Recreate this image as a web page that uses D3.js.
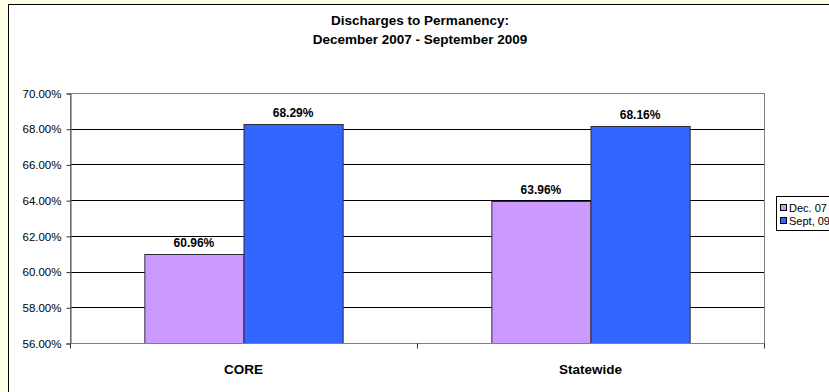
<!DOCTYPE html>
<html>
<head>
<meta charset="utf-8">
<script src="https://cdn.jsdelivr.net/npm/d3@7"></script>
<style>
  html, body { margin: 0; padding: 0; background: #FFFFE6; overflow: hidden; }
  svg { display: block; font-family: "Liberation Sans", Arial, sans-serif; }
</style>
</head>
<body>
<svg id="chart" width="829" height="392"></svg>
<script>
// Chart data
const categories = ["CORE", "Statewide"];
const seriesNames = ["Dec. 07", "Sept, 09"];
const seriesColors = ["#CC99FF", "#3366FF"];
const decValues = [60.96, 63.96];
const septValues = [68.29, 68.16];
const yTicks = [56, 58, 60, 62, 64, 66, 68, 70];
const titleLines = ["Discharges to Permanency:", "December 2007 - September 2009"];

const seriesValues = [decValues, septValues];

const svg = d3.select("#chart");

// Chart area (white panel with black frame)
svg.append("rect")
  .attr("x", 8.5).attr("y", 4.5)
  .attr("width", 840).attr("height", 400)
  .attr("fill", "#fff").attr("stroke", "#000").attr("stroke-width", 1);

// Title
const title = svg.append("text")
  .attr("text-anchor", "middle")
  .attr("font-weight", "bold")
  .attr("font-size", 13.5);
titleLines.forEach((t, i) => {
  title.append("tspan").attr("x", 420).attr("y", 25 + i * 19).text(t);
});

// Plot area geometry
const plot = { left: 70, right: 764, top: 93, bottom: 343 };

const x0 = d3.scaleBand().domain(categories).range([plot.left, plot.right]).padding(0);
const x1 = d3.scaleBand().domain(d3.range(seriesNames.length))
  .range([0, x0.bandwidth()]).paddingInner(0).paddingOuter(0.75);
const y = d3.scaleLinear().domain([56, 70]).range([plot.bottom, plot.top]);

// Gridlines
svg.append("g").selectAll("line")
  .data(yTicks.filter(v => v > 56 && v < 70))
  .join("line")
  .attr("x1", plot.left).attr("x2", plot.right)
  .attr("y1", d => Math.round(y(d)) + 0.5).attr("y2", d => Math.round(y(d)) + 0.5)
  .attr("stroke", "#000").attr("stroke-width", 1);

// Plot border
svg.append("rect")
  .attr("x", plot.left + 0.5).attr("y", plot.top + 0.5)
  .attr("width", plot.right - plot.left).attr("height", plot.bottom - plot.top)
  .attr("fill", "none").attr("stroke", "#808080");

// Bars
const groups = svg.append("g").selectAll("g")
  .data(categories)
  .join("g")
  .attr("transform", d => `translate(${x0(d)},0)`);

groups.each(function(cat, ci) {
  const g = d3.select(this);
  seriesValues.forEach((vals, si) => {
    const v = vals[ci];
    const bx = x1(si);
    g.append("rect")
      .attr("x", bx + 0.5)
      .attr("y", Math.round(y(v)) + 0.5)
      .attr("width", x1.bandwidth())
      .attr("height", plot.bottom - Math.round(y(v)))
      .attr("fill", seriesColors[si])
      .attr("stroke", "#2a2a3a").attr("stroke-width", 1);
    g.append("text")
      .attr("x", bx + x1.bandwidth() / 2)
      .attr("y", y(v) - 7)
      .attr("text-anchor", "middle")
      .attr("font-weight", "bold")
      .attr("font-size", 12)
      .text(v.toFixed(2) + "%");
  });
});

// Y axis
const yAxis = svg.append("g")
  .attr("transform", `translate(${plot.left + 0.5},0.5)`)
  .call(d3.axisLeft(y).tickValues(yTicks).tickSize(4).tickPadding(5)
    .tickFormat(d => d.toFixed(2) + "%"));
yAxis.select(".domain").attr("stroke", "#555");
yAxis.selectAll(".tick line").attr("stroke", "#333");
yAxis.selectAll(".tick text")
  .attr("font-size", 11.5).attr("fill", "#000")
  .attr("font-family", "'Liberation Sans', Arial, sans-serif");

// X axis
const xAxis = svg.append("g")
  .attr("transform", `translate(0,${plot.bottom + 0.5})`);
xAxis.append("line")
  .attr("x1", plot.left).attr("x2", plot.right + 1)
  .attr("stroke", "#808080");
xAxis.selectAll("line.tk")
  .data([plot.left, ...categories.map(c => x0(c) + x0.bandwidth())])
  .join("line").attr("class", "tk")
  .attr("x1", d => Math.round(d) + 0.5).attr("x2", d => Math.round(d) + 0.5)
  .attr("y1", 0).attr("y2", 5)
  .attr("stroke", "#333");
xAxis.selectAll("text")
  .data(categories)
  .join("text")
  .attr("x", d => x0(d) + x0.bandwidth() / 2)
  .attr("y", 30)
  .attr("text-anchor", "middle")
  .attr("font-weight", "bold")
  .attr("font-size", 13.5)
  .text(d => d);

// Legend
const legend = svg.append("g").attr("transform", "translate(776,196)");
legend.append("rect")
  .attr("x", 0.5).attr("y", 0.5).attr("width", 80).attr("height", 34)
  .attr("fill", "#fff").attr("stroke", "#000");
seriesNames.forEach((name, i) => {
  legend.append("rect")
    .attr("x", 4.5).attr("y", 8.5 + i * 13)
    .attr("width", 6).attr("height", 6)
    .attr("fill", seriesColors[i]).attr("stroke", "#000");
  legend.append("text")
    .attr("x", 13).attr("y", 15.5 + i * 13)
    .attr("font-size", 11)
    .text(name);
});
</script>
</body>
</html>
